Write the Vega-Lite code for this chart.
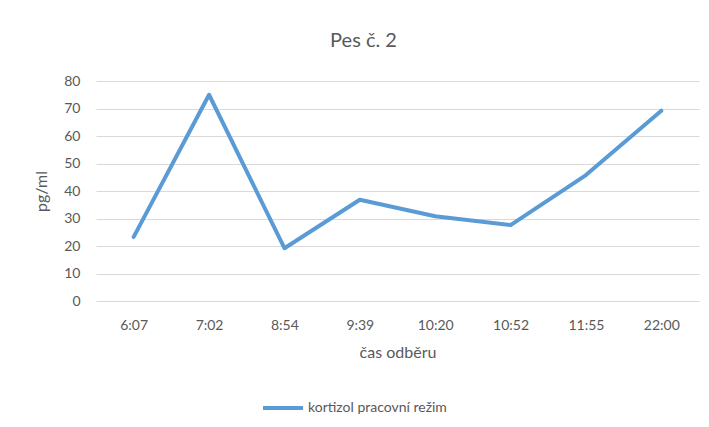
{
  "$schema": "https://vega.github.io/schema/vega-lite/v6.json",
  "width": 603,
  "height": 220,
  "autosize": "none",
  "padding": {"left": 96, "top": 81, "right": 10, "bottom": 126},
  "background": "white",
  "config": {
    "font": "Lato",
    "view": {"stroke": null},
    "axis": {
      "labelColor": "#595959",
      "titleColor": "#595959",
      "labelFontSize": 14,
      "titleFontSize": 16,
      "titleFontWeight": "normal",
      "gridColor": "#D9D9D9",
      "gridWidth": 1,
      "domain": false,
      "ticks": false
    }
  },
  "title": {
    "text": "Pes č. 2",
    "fontSize": 20,
    "fontWeight": "normal",
    "color": "#595959",
    "anchor": "middle",
    "dx": -34,
    "offset": 23
  },
  "data": {
    "values": [
      {"cas": "6:07", "hodnota": 23.3, "serie": "kortizol pracovní režim"},
      {"cas": "7:02", "hodnota": 75.0, "serie": "kortizol pracovní režim"},
      {"cas": "8:54", "hodnota": 19.2, "serie": "kortizol pracovní režim"},
      {"cas": "9:39", "hodnota": 36.8, "serie": "kortizol pracovní režim"},
      {"cas": "10:20", "hodnota": 30.8, "serie": "kortizol pracovní režim"},
      {"cas": "10:52", "hodnota": 27.6, "serie": "kortizol pracovní režim"},
      {"cas": "11:55", "hodnota": 45.8, "serie": "kortizol pracovní režim"},
      {"cas": "22:00", "hodnota": 69.2, "serie": "kortizol pracovní režim"}
    ]
  },
  "mark": {"type": "line", "strokeWidth": 4, "strokeCap": "round", "strokeJoin": "round"},
  "encoding": {
    "x": {
      "field": "cas",
      "type": "ordinal",
      "sort": null,
      "scale": {"type": "point", "padding": 0.5},
      "axis": {"title": "čas odběru", "labelAngle": 0, "labelPadding": 17, "titlePadding": 12, "grid": false}
    },
    "y": {
      "field": "hodnota",
      "type": "quantitative",
      "scale": {"domain": [0, 80]},
      "axis": {"title": "pg/ml", "values": [0, 10, 20, 30, 40, 50, 60, 70, 80], "labelPadding": 16, "titlePadding": 14, "grid": true}
    },
    "color": {
      "field": "serie",
      "type": "nominal",
      "scale": {"range": ["#5B9BD5"]},
      "legend": {
        "title": null,
        "orient": "none",
        "legendX": 165,
        "legendY": 305,
        "symbolType": "stroke",
        "symbolSize": 1600,
        "symbolStrokeWidth": 4,
        "labelFontSize": 14,
        "labelColor": "#595959",
        "labelOffset": 3
      }
    }
  }
}
